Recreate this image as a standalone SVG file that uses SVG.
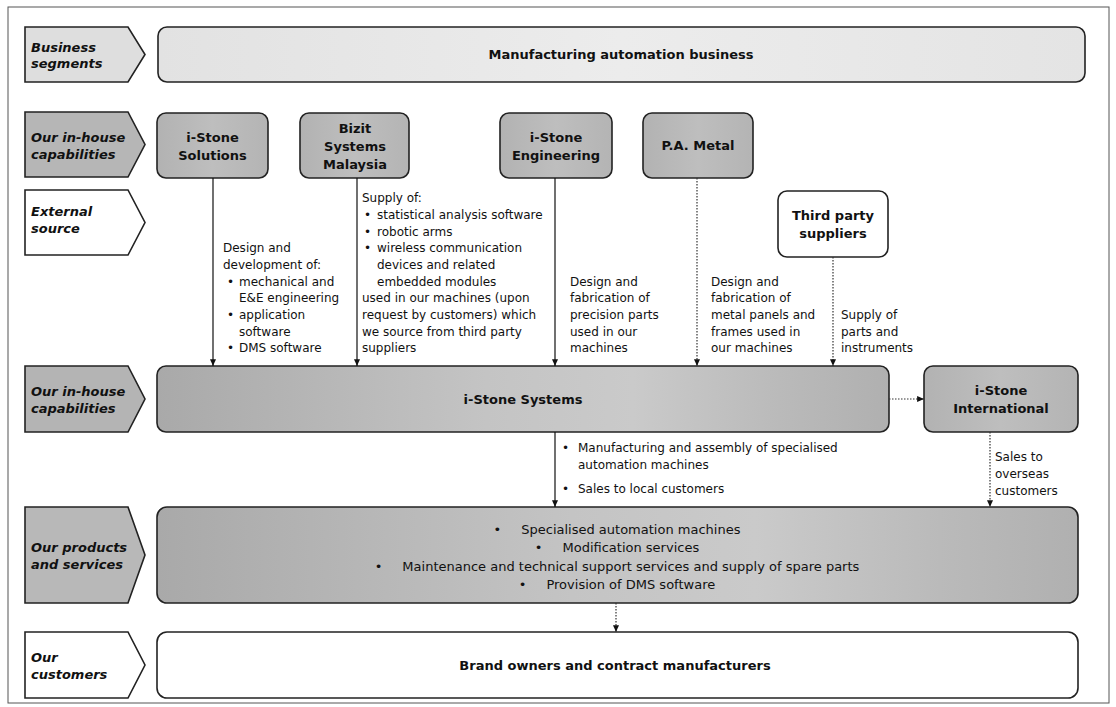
<svg xmlns="http://www.w3.org/2000/svg" width="1116" height="707" viewBox="0 0 1116 707">
<style>
.frame{fill:#fff;stroke:#555;stroke-width:1}
.box{stroke:#222;stroke-width:1.6}
.lab{font-family:"DejaVu Sans",Verdana,sans-serif;font-size:13px;font-weight:bold;font-style:italic;fill:#111}
.nl{font-family:"DejaVu Sans",Verdana,sans-serif;font-size:13px;font-weight:bold;fill:#111;text-anchor:middle}
.t{font-family:"DejaVu Sans",Verdana,sans-serif;font-size:12px;fill:#111}
.tp{font-family:"DejaVu Sans",Verdana,sans-serif;font-size:13px;fill:#111;text-anchor:middle}
.solid{stroke:#111;stroke-width:1.2;fill:none}
.dot{stroke:#333;stroke-width:1.2;fill:none;stroke-dasharray:1.5 1.5}
</style>
<defs>
<linearGradient id="gLight" x1="0" y1="0" x2="1" y2="0">
<stop offset="0" stop-color="#e2e2e2"/><stop offset="0.5" stop-color="#ececec"/><stop offset="1" stop-color="#e4e4e4"/>
</linearGradient>
<linearGradient id="gNode" x1="0" y1="0" x2="1" y2="0">
<stop offset="0" stop-color="#b2b2b2"/><stop offset="0.5" stop-color="#bebebe"/><stop offset="1" stop-color="#b4b4b4"/>
</linearGradient>
<linearGradient id="gWide" x1="0" y1="0" x2="1" y2="0">
<stop offset="0" stop-color="#a9a9a9"/><stop offset="0.25" stop-color="#b8b8b8"/><stop offset="0.45" stop-color="#c4c4c4"/><stop offset="0.65" stop-color="#cacaca"/><stop offset="0.85" stop-color="#bababa"/><stop offset="1" stop-color="#b0b0b0"/>
</linearGradient>
<marker id="ah" viewBox="0 0 8 7" refX="8" refY="3.5" markerWidth="7" markerHeight="6" markerUnits="userSpaceOnUse" orient="auto">
<path d="M0,0 L8,3.5 L0,7 z" fill="#111"/>
</marker>
</defs>

<rect class="frame" x="8" y="7" width="1101" height="696"/>

<g id="label-business-segments">
<path class="box" d="M25,27 H128 L145,54.5 L128,82 H25 Z" fill="#dedede"/>
<text class="lab" x="31" y="51.5">Business</text>
<text class="lab" x="31" y="67.5">segments</text>
</g>
<g id="node-manufacturing-automation">
<rect class="box" x="158" y="27" width="927" height="55" rx="9" fill="url(#gLight)"/>
<text class="nl" x="621" y="59">Manufacturing automation business</text>
</g>

<g id="label-inhouse-1">
<path class="box" d="M25,112 H128 L145,144.5 L128,177 H25 Z" fill="#b6b6b6"/>
<text class="lab" x="31" y="141.5">Our in-house</text>
<text class="lab" x="31" y="159">capabilities</text>
</g>
<g id="node-istone-solutions">
<rect class="box" x="157" y="113" width="111" height="65" rx="9" fill="url(#gNode)"/>
<text class="nl" x="212.5" y="142">i-Stone</text>
<text class="nl" x="212.5" y="160">Solutions</text>
</g>
<g id="node-bizit">
<rect class="box" x="300" y="113" width="109" height="65" rx="9" fill="url(#gNode)"/>
<text class="nl" x="355" y="133">Bizit</text>
<text class="nl" x="355" y="151">Systems</text>
<text class="nl" x="355" y="169">Malaysia</text>
</g>
<g id="node-istone-engineering">
<rect class="box" x="500" y="113" width="112" height="65" rx="9" fill="url(#gNode)"/>
<text class="nl" x="556" y="142">i-Stone</text>
<text class="nl" x="556" y="160">Engineering</text>
</g>
<g id="node-pa-metal">
<rect class="box" x="643" y="113" width="110" height="65" rx="9" fill="url(#gNode)"/>
<text class="nl" x="698" y="150">P.A. Metal</text>
</g>

<g id="label-external">
<path class="box" d="M25,190 H128 L145,222.5 L128,255 H25 Z" fill="#fff"/>
<text class="lab" x="31" y="216">External</text>
<text class="lab" x="31" y="233">source</text>
</g>
<g id="node-third-party">
<rect class="box" x="778" y="191" width="110" height="66" rx="9" fill="#fff"/>
<text class="nl" x="833" y="220">Third party</text>
<text class="nl" x="833" y="238">suppliers</text>
</g>

<g id="label-inhouse-2">
<path class="box" d="M25,366 H128 L145,399 L128,432 H25 Z" fill="#b4b4b4"/>
<text class="lab" x="31" y="395.5">Our in-house</text>
<text class="lab" x="31" y="413">capabilities</text>
</g>
<g id="node-istone-systems">
<rect class="box" x="157" y="366" width="732" height="66" rx="9" fill="url(#gWide)"/>
<text class="nl" x="523" y="404">i-Stone Systems</text>
</g>
<g id="node-istone-international">
<rect class="box" x="924" y="366" width="154" height="66" rx="9" fill="url(#gNode)"/>
<text class="nl" x="1001" y="395">i-Stone</text>
<text class="nl" x="1001" y="413">International</text>
</g>

<g id="label-products">
<path class="box" d="M25,507 H128 L145,555 L128,603 H25 Z" fill="#b8b8b8"/>
<text class="lab" x="31" y="551.5">Our products</text>
<text class="lab" x="31" y="569">and services</text>
</g>
<g id="node-products">
<rect class="box" x="157" y="507" width="921" height="96" rx="10" fill="url(#gWide)"/>
<text class="tp" x="617" y="533.5">•<tspan dx="20">Specialised automation machines</tspan></text>
<text class="tp" x="617" y="552">•<tspan dx="20">Modification services</tspan></text>
<text class="tp" x="617" y="570.5">•<tspan dx="20">Maintenance and technical support services and supply of spare parts</tspan></text>
<text class="tp" x="617" y="589">•<tspan dx="20">Provision of DMS software</tspan></text>
</g>

<g id="label-customers">
<path class="box" d="M25,632 H128 L145,665 L128,698 H25 Z" fill="#fff"/>
<text class="lab" x="31" y="661.5">Our</text>
<text class="lab" x="31" y="679">customers</text>
</g>
<g id="node-customers">
<rect class="box" x="157" y="632" width="921" height="66" rx="10" fill="#fff"/>
<text class="nl" x="615" y="670">Brand owners and contract manufacturers</text>
</g>

<g id="connectors">
<line class="solid" x1="213" y1="178" x2="213" y2="366" marker-end="url(#ah)"/>
<line class="solid" x1="357" y1="178" x2="357" y2="366" marker-end="url(#ah)"/>
<line class="solid" x1="555" y1="178" x2="555" y2="366" marker-end="url(#ah)"/>
<line class="dot" x1="697" y1="178" x2="697" y2="366" marker-end="url(#ah)"/>
<line class="dot" x1="833" y1="257" x2="833" y2="366" marker-end="url(#ah)"/>
<line class="dot" x1="889" y1="399" x2="924" y2="399" marker-end="url(#ah)"/>
<line class="solid" x1="555" y1="432" x2="555" y2="507" marker-end="url(#ah)"/>
<line class="dot" x1="990" y1="432" x2="990" y2="507" marker-end="url(#ah)"/>
<line class="dot" x1="616" y1="603" x2="616" y2="632" marker-end="url(#ah)"/>
</g>

<g id="connector-labels">
<g id="text-solutions">
<text class="t" x="223" y="252">Design and</text>
<text class="t" x="223" y="269">development of:</text>
<text class="t" x="227" y="285.5">•</text><text class="t" x="239" y="285.5">mechanical and</text>
<text class="t" x="239" y="302">E&amp;E engineering</text>
<text class="t" x="227" y="319">•</text><text class="t" x="239" y="319">application</text>
<text class="t" x="239" y="335.5">software</text>
<text class="t" x="227" y="352">•</text><text class="t" x="239" y="352">DMS software</text>
</g>
<g id="text-bizit">
<text class="t" x="362" y="202">Supply of:</text>
<text class="t" x="364" y="219">•</text><text class="t" x="377" y="219">statistical analysis software</text>
<text class="t" x="364" y="235.5">•</text><text class="t" x="377" y="235.5">robotic arms</text>
<text class="t" x="364" y="252">•</text><text class="t" x="377" y="252">wireless communication</text>
<text class="t" x="377" y="269">devices and related</text>
<text class="t" x="377" y="285.5">embedded modules</text>
<text class="t" x="362" y="302">used in our machines (upon</text>
<text class="t" x="362" y="319">request by customers) which</text>
<text class="t" x="362" y="335.5">we source from third party</text>
<text class="t" x="362" y="352">suppliers</text>
</g>
<g id="text-engineering">
<text class="t" x="570" y="285.5">Design and</text>
<text class="t" x="570" y="302">fabrication of</text>
<text class="t" x="570" y="319">precision parts</text>
<text class="t" x="570" y="335.5">used in our</text>
<text class="t" x="570" y="352">machines</text>
</g>
<g id="text-pametal">
<text class="t" x="711" y="285.5">Design and</text>
<text class="t" x="711" y="302">fabrication of</text>
<text class="t" x="711" y="319">metal panels and</text>
<text class="t" x="711" y="335.5">frames used in</text>
<text class="t" x="711" y="352">our machines</text>
</g>
<g id="text-thirdparty">
<text class="t" x="841" y="319">Supply of</text>
<text class="t" x="841" y="335.5">parts and</text>
<text class="t" x="841" y="352">instruments</text>
</g>
<g id="text-systems-out">
<text class="t" x="562" y="452">•</text><text class="t" x="578" y="452">Manufacturing and assembly of specialised</text>
<text class="t" x="578" y="469">automation machines</text>
<text class="t" x="562" y="493">•</text><text class="t" x="578" y="493">Sales to local customers</text>
</g>
<g id="text-international-out">
<text class="t" x="995" y="461">Sales to</text>
<text class="t" x="995" y="478">overseas</text>
<text class="t" x="995" y="495">customers</text>
</g>
</g>
</svg>
